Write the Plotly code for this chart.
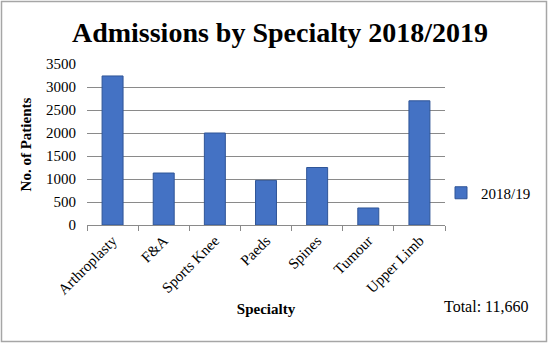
import plotly.graph_objects as go

specialties = ["Arthroplasty", "F&A", "Sports Knee", "Paeds", "Spines", "Tumour", "Upper Limb"]
admissions = [3240, 1130, 2000, 970, 1250, 370, 2700]
series_name = "2018/19"
y_ticks = [0, 500, 1000, 1500, 2000, 2500, 3000, 3500]
total = sum(admissions)

W, H = 549, 344
L, R, T, B = 87, 104, 64, 119
pw, ph = W - L - R, H - T - B

def px_x(p):
    return (p - L) / pw

def px_y(p):
    return (H - B - p) / ph

serif = "Liberation Serif"
grid = "#8a8a8a"

fig = go.Figure()
fig.add_trace(go.Bar(
    x=specialties, y=admissions, name=series_name,
    marker=dict(color="#4472C4", line=dict(color="#2F5597", width=1)),
    showlegend=True,
))

fig.update_layout(
    width=W, height=H,
    margin=dict(l=L, r=R, t=T, b=B, autoexpand=False),
    paper_bgcolor="white", plot_bgcolor="white",
    font=dict(family=serif, size=15, color="black"),
    bargap=0.59,
    title=dict(text="<b>Admissions by Specialty 2018/2019</b>",
               font=dict(family=serif, size=28, color="black"),
               x=280 / W, xanchor="center", y=1 - 32 / H, yanchor="middle"),
    showlegend=True,
    legend=dict(xref="container", yref="container", x=441 / W, y=1 - 193 / H,
                xanchor="left", yanchor="middle",
                font=dict(family=serif, size=15), bgcolor="rgba(0,0,0,0)",
                itemwidth=30),
    xaxis=dict(
        automargin=False,
        tickangle=-45, showgrid=False, showline=True, linecolor=grid, linewidth=1,
        ticks="outside", tickson="boundaries", ticklen=5, tickcolor=grid,
        tickfont=dict(family=serif, size=15),
        title=dict(text="<b>Specialty</b>", font=dict(family=serif, size=15), standoff=6),
    ),
    yaxis=dict(
        automargin=False,
        range=[0, 3500], tickvals=y_ticks, showgrid=True, gridcolor=grid, gridwidth=1,
        zeroline=False, showline=False, ticks="", ticklabelstandoff=10,
        tickfont=dict(family=serif, size=15),
        title=dict(text="<b>No. of Patients</b>", font=dict(family=serif, size=15), standoff=10),
    ),
)

fig.add_annotation(
    text=f"Total: {total:,}", xref="paper", yref="paper",
    x=px_x(531), y=px_y(306), xanchor="right", yanchor="middle",
    showarrow=False, font=dict(family=serif, size=16, color="black"),
)

# outer frame around the whole chart
fig.add_shape(
    type="rect", xref="paper", yref="paper",
    x0=px_x(1.5), x1=px_x(546.5), y0=px_y(341.5), y1=px_y(1.5),
    line=dict(color="#a6a6a6", width=1.5), fillcolor="rgba(0,0,0,0)",
)

fig.write_html("out.html")
